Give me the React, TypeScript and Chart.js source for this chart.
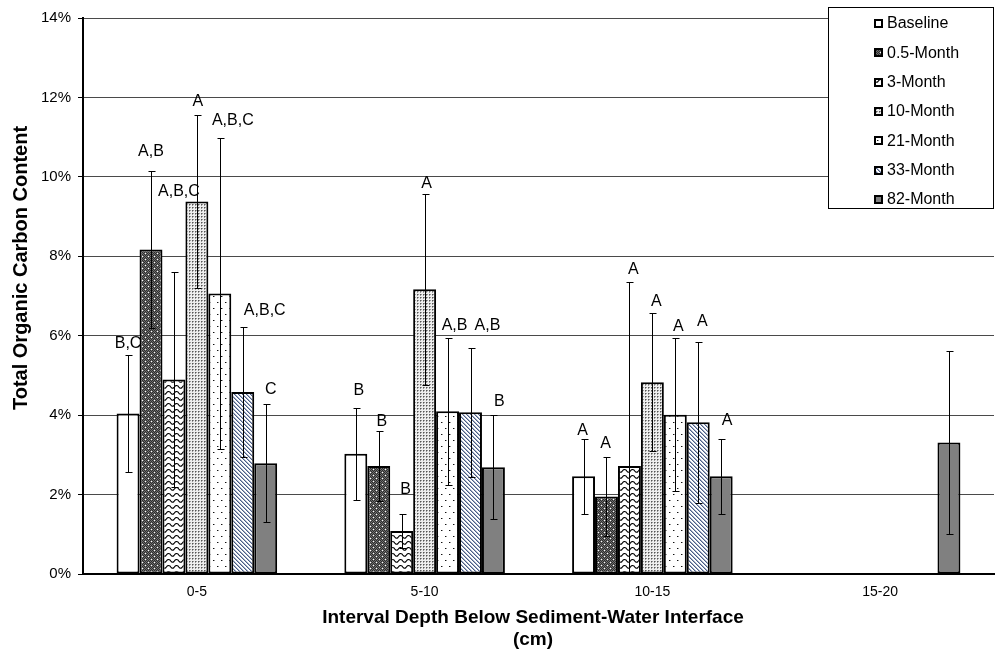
import React, { useEffect, useRef } from 'react';
import { Chart, registerables } from 'chart.js';

Chart.register(...registerables);

const CATEGORIES = ['0-5', '5-10', '10-15', '15-20'];
const SERIES_NAMES = ['Baseline', '0.5-Month', '3-Month', '10-Month', '21-Month', '33-Month', '82-Month'];
const Y_TICKS = [0, 2, 4, 6, 8, 10, 12, 14];

const BASELINE = [4.04, 3.03, 2.46, null];
const M05 = [8.17, 2.72, 1.95, null];
const M3 = [4.9, 1.08, 2.72, null];
const M10 = [9.38, 7.17, 4.83, null];
const M21 = [7.06, 4.1, 4.01, null];
const M33 = [4.58, 4.07, 3.82, null];
const M82 = [2.79, 2.69, 2.46, 3.31];

const BASELINE_ERR = [1.47, 1.16, 0.95, null];
const M05_ERR = [1.97, 0.89, 1.0, null];
const M3_ERR = [2.7, 0.42, 4.62, null];
const M10_ERR = [2.17, 2.4, 1.74, null];
const M21_ERR = [3.92, 1.85, 1.92, null];
const M33_ERR = [1.64, 1.62, 2.02, null];
const M82_ERR = [1.48, 1.31, 0.95, 2.3];

const BASELINE_LETTERS = ['B,C', 'B', 'A', ''];
const M05_LETTERS = ['A,B', 'B', 'A', ''];
const M3_LETTERS = ['A,B,C', 'B', 'A', ''];
const M10_LETTERS = ['A', 'A', 'A', ''];
const M21_LETTERS = ['A,B,C', 'A,B', 'A', ''];
const M33_LETTERS = ['A,B,C', 'A,B', 'A', ''];
const M82_LETTERS = ['C', 'B', 'A', ''];

// value (in %) at which each significance letter is centred
const BASELINE_LABEL_AT = [5.8, 4.61, 3.62, null];
const M05_LABEL_AT = [10.63, 3.83, 3.28, null];
const M3_LABEL_AT = [9.62, 2.12, 7.67, null];
const M10_LABEL_AT = [11.89, 9.84, 6.87, null];
const M21_LABEL_AT = [11.41, 6.26, 6.24, null];
const M33_LABEL_AT = [6.64, 6.26, 6.35, null];
const M82_LABEL_AT = [4.64, 4.34, 3.87, null];

const VALUES = [BASELINE, M05, M3, M10, M21, M33, M82];
const ERRORS = [BASELINE_ERR, M05_ERR, M3_ERR, M10_ERR, M21_ERR, M33_ERR, M82_ERR];
const LETTERS = [BASELINE_LETTERS, M05_LETTERS, M3_LETTERS, M10_LETTERS, M21_LETTERS, M33_LETTERS, M82_LETTERS];
const LABEL_AT = [BASELINE_LABEL_AT, M05_LABEL_AT, M3_LABEL_AT, M10_LABEL_AT, M21_LABEL_AT, M33_LABEL_AT, M82_LABEL_AT];

// styling: horizontal nudges of the letters (px)
const LABEL_DX = [
  [0, 3, -1, 0],
  [0, 3, -1, 0],
  [5, 4, 4, 0],
  [1, 2, 4, 0],
  [13, 7, 3, 0],
  [22, 17, 4, 0],
  [5, 6, 6, 0],
];

const FONT = '"Liberation Sans", Arial, sans-serif';

function tile(w: number, h: number, draw: (c: CanvasRenderingContext2D) => void, ctx: CanvasRenderingContext2D) {
  const c = document.createElement('canvas');
  c.width = w;
  c.height = h;
  const g = c.getContext('2d')!;
  draw(g);
  return ctx.createPattern(c, 'repeat')!;
}

function px(g: CanvasRenderingContext2D, x: number, y: number, col: string) {
  g.fillStyle = col;
  g.fillRect(x, y, 1, 1);
}

function makeFills(ctx: CanvasRenderingContext2D): any[] {
  const baseline = '#ffffff';
  const m05 = tile(6, 6, (g) => {
    for (let y = 0; y < 6; y++) for (let x = 0; x < 6; x++) px(g, x, y, (x + y) % 2 === 0 ? '#2e2e2e' : '#6e6e6e');
    px(g, 1, 1, '#ffffff');
    px(g, 4, 4, '#ffffff');
  }, ctx);
  const m3 = tile(8, 6, (g) => {
    g.fillStyle = '#ffffff';
    g.fillRect(0, 0, 8, 6);
    g.strokeStyle = '#000000';
    g.lineWidth = 1.1;
    g.beginPath();
    g.moveTo(-2, 3.5);
    g.quadraticCurveTo(0, 0.5, 2, 2);
    g.quadraticCurveTo(4, 5.5, 6, 3.5);
    g.quadraticCurveTo(8, 0.5, 10, 2);
    g.stroke();
  }, ctx);
  const m10 = tile(3, 3, (g) => {
    g.fillStyle = '#eeeeee';
    g.fillRect(0, 0, 3, 3);
    px(g, 0, 0, '#555555');
    px(g, 1, 0, '#999999');
    px(g, 0, 1, '#999999');
  }, ctx);
  const m21 = tile(8, 12, (g) => {
    g.fillStyle = '#ffffff';
    g.fillRect(0, 0, 8, 12);
    px(g, 1, 2, '#111111');
    px(g, 2, 2, '#999999');
    px(g, 5, 8, '#111111');
    px(g, 6, 8, '#999999');
  }, ctx);
  const m33 = tile(4, 4, (g) => {
    g.fillStyle = '#ffffff';
    g.fillRect(0, 0, 4, 4);
    for (let i = 0; i < 4; i++) {
      px(g, i, i, '#4b5d85');
      px(g, (i + 1) % 4, i, '#a3aec6');
    }
  }, ctx);
  const m82 = '#808080';
  return [baseline, m05, m3, m10, m21, m33, m82];
}

function makeOverlay(fills: any[]) {
  return {
    id: 'overlay',
    afterDatasetsDraw(chart: any) {
      const { ctx, chartArea, scales } = chart;
      const y = scales.y;
      ctx.save();
      ctx.beginPath();
      ctx.rect(chartArea.left, chartArea.top, chartArea.right - chartArea.left, chartArea.bottom - chartArea.top);
      ctx.clip();
      ctx.strokeStyle = '#000';
      ctx.lineWidth = 1;
      VALUES.forEach((vals, d) => {
        const meta = chart.getDatasetMeta(d);
        vals.forEach((v, i) => {
          const e = ERRORS[d][i];
          if (v == null || e == null) return;
          const bar = meta.data[i];
          if (!bar) return;
          const x = Math.round(bar.x) + 0.5;
          const yt = Math.round(y.getPixelForValue(v + e)) + 0.5;
          const lowV = v - e;
          const yb = Math.round(y.getPixelForValue(Math.max(lowV, 0))) + 0.5;
          ctx.beginPath();
          ctx.moveTo(x, yt);
          ctx.lineTo(x, yb);
          ctx.moveTo(x - 3, yt);
          ctx.lineTo(x + 4, yt);
          if (lowV > 0) {
            ctx.moveTo(x - 3, yb);
            ctx.lineTo(x + 4, yb);
          }
          ctx.stroke();
        });
      });
      ctx.restore();

      ctx.save();
      ctx.fillStyle = '#000';
      ctx.font = `16px ${FONT}`;
      ctx.textAlign = 'center';
      ctx.textBaseline = 'middle';
      LETTERS.forEach((lets, d) => {
        const meta = chart.getDatasetMeta(d);
        lets.forEach((t, i) => {
          const at = LABEL_AT[d][i];
          if (!t || at == null) return;
          const bar = meta.data[i];
          if (!bar) return;
          ctx.fillText(t, bar.x + LABEL_DX[d][i], y.getPixelForValue(at));
        });
      });
      ctx.restore();
    },
    afterDraw(chart: any) {
      const { ctx } = chart;
      ctx.save();
      ctx.fillStyle = '#000';
      ctx.font = `bold 19px ${FONT}`;
      ctx.textAlign = 'center';
      ctx.textBaseline = 'middle';
      const cx = 533;
      ctx.fillText('Interval Depth Below Sediment-Water Interface', cx, 618);
      ctx.fillText('(cm)', cx, 640);
      ctx.save();
      ctx.translate(21, 268);
      ctx.rotate(-Math.PI / 2);
      ctx.font = `bold 20px ${FONT}`;
      ctx.fillText('Total Organic Carbon Content', 0, 0);
      ctx.restore();

      const lx = 828.5, ly = 7.5, lw = 165, lh = 201;
      ctx.fillStyle = '#fff';
      ctx.fillRect(lx, ly, lw, lh);
      ctx.strokeStyle = '#000';
      ctx.lineWidth = 1;
      ctx.strokeRect(lx, ly, lw, lh);
      ctx.font = `16px ${FONT}`;
      ctx.textAlign = 'left';
      ctx.textBaseline = 'middle';
      SERIES_NAMES.forEach((name, i) => {
        const yc = 23 + i * 29.3;
        ctx.fillStyle = fills[i];
        ctx.fillRect(874, Math.round(yc) - 4, 9, 9);
        ctx.strokeStyle = '#000';
        ctx.lineWidth = 2;
        ctx.strokeRect(875, Math.round(yc) - 3, 7, 7);
        ctx.fillStyle = '#000';
        ctx.fillText(name, 887, yc + 1);
      });
      ctx.restore();
    },
  };
}

export default function App() {
  const ref = useRef<HTMLCanvasElement>(null);
  useEffect(() => {
    document.body.style.margin = '0';
    const canvas = ref.current!;
    const ctx = canvas.getContext('2d')!;
    const fills = makeFills(ctx);
    const chart: any = new Chart(ctx, {
      type: 'bar',
      data: {
        labels: CATEGORIES,
        datasets: SERIES_NAMES.map((name, i) => ({
          label: name,
          data: VALUES[i] as any,
          backgroundColor: fills[i],
          borderColor: '#000',
          borderWidth: 2,
          borderSkipped: false,
          categoryPercentage: 0.705,
          barPercentage: 1,
        })),
      },
      options: {
        responsive: false,
        animation: false,
        devicePixelRatio: 1,
        layout: { padding: { top: 18, right: 1, left: 0, bottom: 0 } },
        plugins: { legend: { display: false }, tooltip: { enabled: false } },
        scales: {
          x: {
            grid: { display: false, drawTicks: false },
            border: { display: true, color: '#000', width: 2 },
            ticks: { font: { size: 14, family: FONT }, color: '#000', padding: 10 },
            afterFit: (s: any) => {
              s.height = 78;
            },
          },
          y: {
            min: 0,
            max: 14,
            afterBuildTicks: (s: any) => {
              s.ticks = Y_TICKS.map((v) => ({ value: v }));
            },
            ticks: {
              callback: (v: any) => `${v}%`,
              font: { size: 15, family: FONT },
              color: '#000',
              padding: 7,
            },
            grid: { color: '#4a4a4a', lineWidth: 1, tickLength: 5, tickColor: '#000' },
            border: { color: '#000', width: 2 },
            afterFit: (s: any) => {
              s.width = 83;
            },
          },
        },
      },
      plugins: [makeOverlay(fills)],
    });
    return () => chart.destroy();
  }, []);
  return (
    <div style={{ width: 995, height: 652 }}>
      <canvas ref={ref} width={995} height={652} style={{ display: 'block', width: 995, height: 652 }} />
    </div>
  );
}
